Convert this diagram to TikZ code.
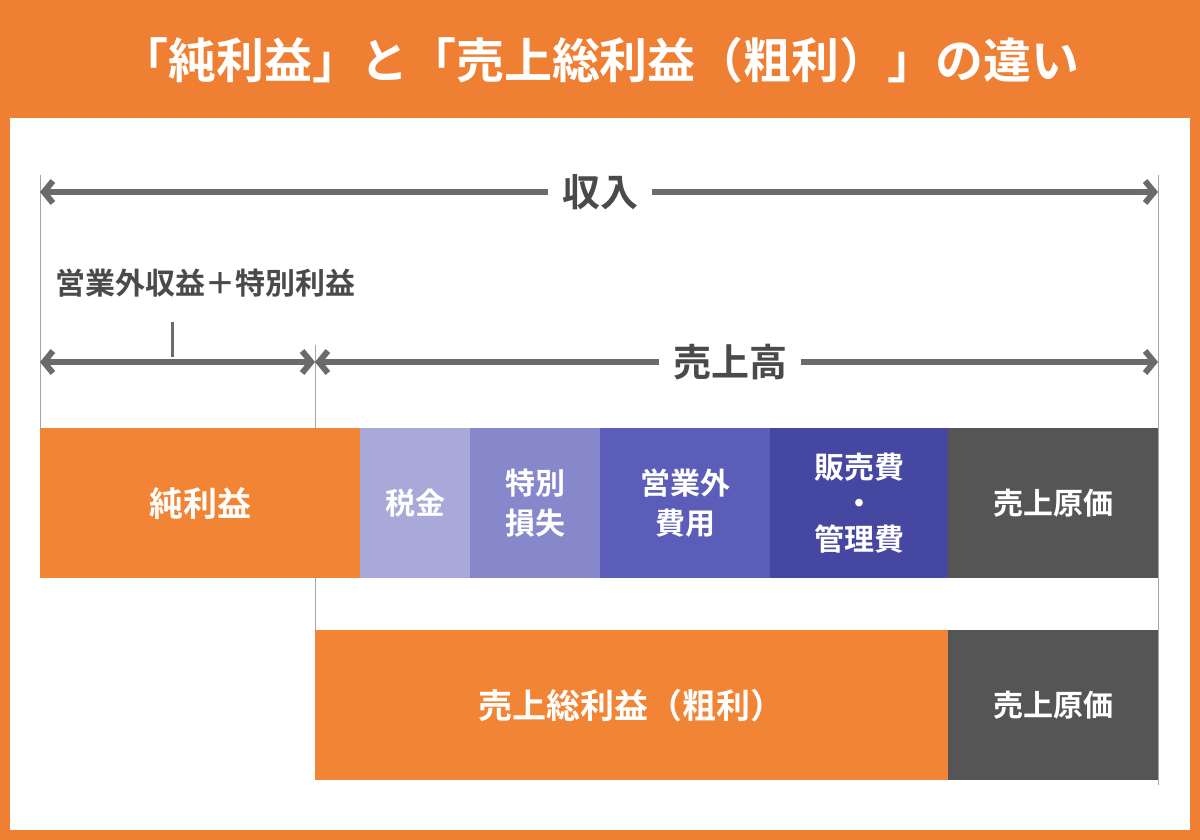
\documentclass[tikz,border=0pt]{standalone}
\usepackage{fontspec}
\setmainfont{Noto Sans CJK JP}[BoldFont={Noto Sans CJK JP Bold}]
\usetikzlibrary{arrows.meta}
\definecolor{org}{HTML}{EE7F33}
\definecolor{borg}{HTML}{F28535}
\definecolor{ag}{HTML}{6B6B6B}
\definecolor{tg}{HTML}{4A4A4A}
\definecolor{c1}{HTML}{A8A9D8}
\definecolor{c2}{HTML}{8788CC}
\definecolor{c3}{HTML}{5B5DB8}
\definecolor{c4}{HTML}{4647A0}
\definecolor{c5}{HTML}{555555}
\begin{document}
\begin{tikzpicture}[x=1pt,y=-1pt,
 arr/.style={draw=ag,line width=6pt,arrows={Straight Barb[length=9pt,width=22pt,line width=6pt]-Straight Barb[length=9pt,width=22pt,line width=6pt]}},
 arrl/.style={draw=ag,line width=6pt,-{Straight Barb[length=9pt,width=22pt,line width=6pt]}},
 vl/.style={draw=gray!70,line width=1pt},
 box/.style={draw=none,anchor=north west,inner sep=0pt,text=white,font=\bfseries\fontsize{34}{42}\selectfont,align=center},
 lab/.style={text=tg,font=\bfseries\fontsize{38}{44}\selectfont}]
\fill[org] (0,0) rectangle (1200,840);
\fill[white] (10,118) rectangle (1190,830);
\node[text=white,font=\bfseries\fontsize{48}{56}\selectfont] (title) at (600,60) {「純利益」と「売上総利益（粗利）」の違い};
% vertical lines
\draw[vl] (40,175) -- (40,555);
\draw[vl] (1158,175) -- (1158,785);
\draw[vl] (315,345) -- (315,640);
% arrow 1
\node[lab] (inc) at (600,192) {収入};
\coordinate (a1l) at (40,192); \coordinate (a1r) at (1158,192);
\draw[arrl] (inc.west) ++(-10,0) -- (a1l);
\draw[arrl] (inc.east) ++(10,0) -- (a1r);
% label 2
\node[text=tg,font=\bfseries\fontsize{30}{36}\selectfont,anchor=west] (nonop) at (52,283) {営業外収益＋特別利益};
\coordinate (tk1) at (172,322); \coordinate (tk2) at (172,357);
\draw[draw=ag,line width=3pt] (tk1) -- (tk2);
\coordinate (a2l) at (40,362); \coordinate (a2r) at (315,362);
\draw[arr] (a2l) -- (a2r);
\node[lab] (sales) at (730,362) {売上高};
\coordinate (a3l) at (315,362); \coordinate (a3r) at (1158,362);
\draw[arrl] (sales.west) ++(-10,0) -- (a3l);
\draw[arrl] (sales.east) ++(10,0) -- (a3r);
% row 1
\node[box,fill=borg,minimum width=320pt,minimum height=150pt] (net) at (40,428) {純利益};
\node[box,fill=c1,minimum width=110pt,minimum height=150pt,font=\bfseries\fontsize{30}{40}\selectfont] (tax) at (360,428) {税金};
\node[box,fill=c2,minimum width=130pt,minimum height=150pt,font=\bfseries\fontsize{30}{40}\selectfont] (sl) at (470,428) {特別\\損失};
\node[box,fill=c3,minimum width=170pt,minimum height=150pt,font=\bfseries\fontsize{30}{40}\selectfont] (noe) at (600,428) {営業外\\費用};
\node[box,fill=c4,minimum width=178pt,minimum height=150pt,font=\bfseries\fontsize{30}{36}\selectfont] (sga) at (770,428) {販売費\\・\\管理費};
\node[box,fill=c5,minimum width=210pt,minimum height=150pt,font=\bfseries\fontsize{30}{40}\selectfont] (cogs1) at (948,428) {売上原価};
% row 2
\node[box,fill=borg,minimum width=633pt,minimum height=150pt] (gp) at (315,630) {売上総利益（粗利）};
\node[box,fill=c5,minimum width=210pt,minimum height=150pt,font=\bfseries\fontsize{30}{40}\selectfont] (cogs2) at (948,630) {売上原価};
\end{tikzpicture}
\end{document}
